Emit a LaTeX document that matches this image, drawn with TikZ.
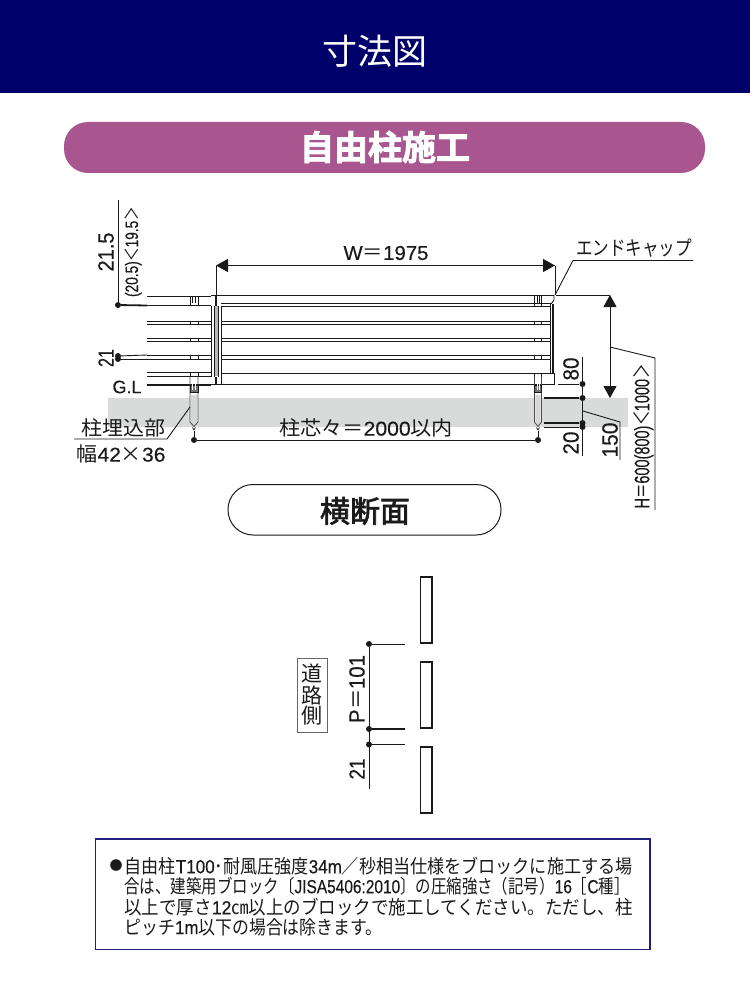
\documentclass[tikz,border=0pt]{standalone}
\usepackage{fontspec}
\usepackage{graphicx}
\usetikzlibrary{arrows.meta}
\setmainfont{Noto Sans CJK JP}
\newfontfamily\cjkf{Noto Sans CJK JP}
\newfontfamily\lat[FakeBold=0.3]{Liberation Sans}
\newfontfamily\heavy[FakeBold=2.5]{Noto Sans CJK JP Bold}
\newfontfamily\medb[FakeBold=2.4]{Noto Sans CJK JP}
\newsavebox{\fitbox}
\newcommand{\fitw}[2]{\sbox{\fitbox}{#2}\pgfmathsetmacro{\myr}{#1/\the\wd\fitbox}\scalebox{\myr}[1]{\usebox{\fitbox}}}
\newcommand{\fs}[1]{\fontsize{#1}{#1}\selectfont}
\definecolor{navy}{HTML}{00006A}
\definecolor{plum}{HTML}{A95590}
\definecolor{ink}{HTML}{1A1A1A}
\definecolor{ground}{HTML}{D9DBDA}
\definecolor{notebd}{HTML}{1F1F7A}
\tikzset{
  lab/.style={inner sep=0pt,outer sep=0pt,text=ink},
  fl/.style={draw=ink,line width=0.9pt},
  flthick/.style={draw=ink,line width=1.3pt},
  dimline/.style={draw=ink,line width=0.9pt},
  dimthick/.style={draw=ink,line width=1.8pt},
  dimdot/.style={circle,fill=ink,inner sep=0pt,minimum size=6pt},
  bigarrow/.style={draw=ink,line width=1pt,{Triangle[length=12pt,width=13pt]}-{Triangle[length=12pt,width=13pt]}},
}
\begin{document}
\begin{tikzpicture}[x=1pt,y=-1pt]
\useasboundingbox (0,0) rectangle (750,995);
\fill[white] (0,0) rectangle (750,995);
% banners
\fill[navy] (0,0) rectangle (750,93);
\node[lab,text=white] (title) at (375,51) {\fs{35}寸法図};
\fill[plum,rounded corners=24pt] (64,122) rectangle (705,173);
\node[lab,text=white] (sub) at (385,147) {\fs{34}\heavy 自由柱施工};
% ground
\fill[ground] (108,398) rectangle (628,427);
% left rails
\foreach \y in {296,321,324.3,338,341.7,355,359,372.7,376.7}
  \draw[fl] (147,\y) -- (211,\y);
\draw[flthick] (147,305.5) -- (211,305.5);
\draw[flthick] (147,385) -- (211,385);
% panel rails
\foreach \y in {321,324.3,338,341.7,355,359}
  \draw[fl] (221,\y) -- (550,\y);
\draw[flthick] (221,306.7) -- (550,306.7);
% top cap
\draw[fl] (211,295.5) -- (554,295.5) -- (554,300) -- (551.5,303.5) -- (221,303.5);
% bottom rail
\draw[fl] (221,373) -- (554.5,373) -- (554.5,384.5) -- (216,384.5);
\draw[flthick] (211,384.5) -- (554.5,384.5);
% stile left
\fill[black!28] (214.3,306) rectangle (218.3,376);
\draw[fl] (211,306) -- (211,376.5);
\draw[fl] (214,306) -- (214,376.5);
\draw[fl] (218.5,306) -- (218.5,376.5);
\draw[fl] (221,306) -- (221,384);
\draw[flthick] (216,295.5) -- (216,306);
\draw[flthick] (216,376.5) -- (216,385);
% stile right
\draw[fl] (550,304) -- (550,373);
\draw[flthick] (553,304) -- (553,373);
% posts crossing the rails
\foreach \xa/\xb in {190/198,534.5/541.5}{
  \foreach \ya/\yb in {321/324.3,338/341.7,355/359,372.7/376.7}{
    \draw[fl] (\xa,\ya) -- (\xa,\yb);
    \draw[fl] (\xb,\ya) -- (\xb,\yb);
  }
  \draw[fl] (\xa,296) -- (\xa,306);
  \draw[fl] (\xb,296) -- (\xb,306);
  \draw[fl] ({\xa+2.5},296) -- ({\xa+2.5},303);
  \draw[fl] ({\xb-2.5},296) -- ({\xb-2.5},303);
  \fill[white] (\xa,385.5) -- (\xa,422) -- ({(\xa+\xb)/2},427) -- (\xb,422) -- (\xb,385.5) -- cycle;
  \fill[black!16] ({\xa+0.8},395) -- ({\xa+0.8},422) -- ({(\xa+\xb)/2},426.5) -- ({\xb-0.8},422) -- ({\xb-0.8},395) -- cycle;
  \draw[draw=black!70,line width=0.8pt] (\xa,376.7) -- (\xa,422) -- ({(\xa+\xb)/2},426.5) -- (\xb,422) -- (\xb,376.7);
  \draw[fill=black!55,draw=ink,line width=0.6pt] (\xa,385) rectangle (\xb,392);
  \draw[draw=white,line width=0.7pt] ({\xa+2.5},380) -- ({\xa+2.5},390);
  \draw[draw=white,line width=0.7pt] ({\xb-2.5},380) -- ({\xb-2.5},390);
  \draw[draw=ink,line width=0.7pt] ({(\xa+\xb)/2-1.5},427.5) -- ({(\xa+\xb)/2},430) -- ({(\xa+\xb)/2+1.5},427.5);
}
% left dims
\coordinate (d1top) at (118,200);
\node[dimdot] (d1a) at (118,305) {};
\node[dimdot] (d1b) at (118,356) {};
\node[dimdot] (d1c) at (118,359) {};
\coordinate (r1) at (147,305.5);
\coordinate (r2) at (147,355);
\coordinate (r3) at (147,359);
\draw[dimline] (d1top) -- (d1a);
\draw[dimthick] (d1a) -- (r1);
\draw[dimline] (d1b) -- (r2);
\draw[dimline] (d1c) -- (r3);
\node[lab,rotate=90] (t215) at (106,252) {\lat\fs{22}\fitw{39}{21.5}};
\node[lab,rotate=90] (t205) at (133,252) {\lat\fs{18}\fitw{90}{(20.5){\cjkf ＜}19.5{\cjkf ＞}}};
\node[lab,rotate=90] (t21) at (106,358) {\lat\fs{22}\fitw{18}{21}};
\node[lab] (tgl) at (127,387) {\lat\fs{18}G.L};
% W
\coordinate (wa) at (216,265.5);
\coordinate (wb) at (555,265.5);
\coordinate (wac) at (216,295);
\coordinate (wbc) at (555,295);
\draw[bigarrow] (wa) -- (wb);
\draw[dimline] (wa) -- (wac);
\draw[dimline] (wb) -- (wbc);
\node[lab] (tw) at (386,253) {\lat\fs{20}\fitw{85}{W{\cjkf ＝}1975}};
% end cap
\coordinate (ec1) at (693,260.5);
\coordinate (ec2) at (573,260.5);
\coordinate (ec3) at (555,295);
\draw[dimline] (ec1) -- (ec2) -- (ec3);
\node[lab] (tec) at (634,248) {\fs{20}\fitw{116}{エンドキャップ}};
% H
\coordinate (ha) at (610,295);
\coordinate (hb) at (610,398);
\coordinate (hc) at (556,295);
\draw[dimline] (hc) -- (ha);
\draw[bigarrow] (ha) -- (hb);
\coordinate (hl1) at (610,347);
\coordinate (hl2) at (655,358);
\coordinate (hl3) at (655,510);
\draw[dimline] (hl1) -- (hl2) -- (hl3);
\node[lab,rotate=90] (th) at (643.5,436.5) {\lat\fs{21}\fitw{144}{H{\cjkf ＝}600(800){\cjkf ＜}1000{\cjkf ＞}}};
% right dims
\coordinate (rt) at (582.5,357);
\coordinate (rb) at (582.5,456);
\draw[dimline] (rt) -- (rb);
\node[dimdot] (r80) at (582.5,384) {};
\node[dimdot] (r0) at (582.5,398) {};
\node[dimdot] (r20a) at (582.5,423) {};
\node[dimdot] (r20b) at (582.5,427) {};
\coordinate (l80) at (558,384);
\coordinate (l0) at (544,398);
\coordinate (l20a) at (544,423);
\coordinate (l20b) at (544,427);
\draw[dimline] (l80) -- (r80);
\draw[dimthick] (l0) -- (r0);
\draw[dimthick] (l20a) -- (r20a);
\draw[dimline] (l20b) -- (r20b);
\node[lab,rotate=90] (t80) at (571,369) {\lat\fs{22}\fitw{23}{80}};
\node[lab,rotate=90] (t20) at (571,443) {\lat\fs{22}\fitw{23}{20}};
\node[lab,rotate=90] (t150) at (610,440) {\lat\fs{22}\fitw{35}{150}};
\coordinate (p1) at (583,411);
\coordinate (p2) at (620,422);
\coordinate (p3) at (620,460);
\draw[dimline] (p1) -- (p2) -- (p3);
% pitch dim
\node[dimdot] (pa) at (194,440) {};
\node[dimdot] (pb) at (538,440) {};
\coordinate (pau) at (194,431);
\coordinate (pbu) at (538,431);
\draw[dimline] (pa) -- (pb);
\draw[dimline] (pau) -- (pa);
\draw[dimline] (pbu) -- (pb);
\node[lab] (tpitch) at (366,428) {\fs{20}\fitw{174}{柱芯々＝{\lat 2000}以内}};
% buried label
\coordinate (b1) at (74,439);
\coordinate (b2) at (167,439);
\coordinate (b3) at (190,407);
\draw[dimline] (b1) -- (b2) -- (b3);
\node[lab] (tb1) at (123,428) {\fs{20}\fitw{84}{柱埋込部}};
\node[lab] (tb2) at (121,454) {\fs{20}\fitw{89}{幅{\lat 42}×{\lat 36}}};
% section title
\draw[draw=ink,line width=1pt,rounded corners=25pt] (228,484.5) rectangle (501,535);
\node[lab] (tsec) at (365,511) {\fs{30}\medb 横断面};
% section
\foreach \ya/\yb in {577/643,662/728,747/813}
  \draw[draw=ink,line width=1.1pt] (420.5,\ya) rectangle (432,\yb);
\node[dimdot] (s1) at (369,644) {};
\node[dimdot] (s2) at (369,729) {};
\node[dimdot] (s3) at (369,744.5) {};
\coordinate (se) at (369,789);
\coordinate (s1r) at (405,644);
\coordinate (s2r) at (405,729);
\coordinate (s3r) at (405,744.5);
\draw[dimline] (s1) -- (se);
\draw[dimline] (s1) -- (s1r);
\draw[dimthick] (s2) -- (s2r);
\draw[dimline] (s3) -- (s3r);
\node[lab,rotate=90] (tp) at (357,689) {\lat\fs{22}\fitw{68}{P{\cjkf ＝}101}};
\node[lab,rotate=90] (t21b) at (357,769) {\lat\fs{22}\fitw{21}{21}};
\draw[draw=black!60,line width=0.9pt] (297.5,658.5) rectangle (327,732);
\node[lab] (r1t) at (312,673) {\fs{21}道};
\node[lab] (r2t) at (312,695) {\fs{21}路};
\node[lab] (r3t) at (312,716) {\fs{21}側};
% note
\draw[draw=notebd,line width=1.6pt] (95.5,839) rectangle (650,949.5);
\node[lab] (bul) at (116,866) {\fs{13}●};
\node[lab,anchor=west] (n1) at (124.5,866) {\fs{19}\fitw{508}{自由柱{\lat T100}･耐風圧強度{\lat 34m}／秒相当仕様をブロックに施工する場}};
\node[lab,anchor=west] (n2) at (124.5,886) {\fs{19}\fitw{505}{合は、建築用ブロック〔{\lat JISA5406:2010}〕の圧縮強さ（記号）{\lat 16}［{\lat C}種］}};
\node[lab,anchor=west] (n3) at (124.5,907) {\fs{19}\fitw{508}{以上で厚さ{\lat 12}㎝以上のブロックで施工してください。ただし、柱}};
\node[lab,anchor=west] (n4) at (124.5,927) {\fs{19}\fitw{258}{ピッチ{\lat 1m}以下の場合は除きます。}};
\end{tikzpicture}
\end{document}
